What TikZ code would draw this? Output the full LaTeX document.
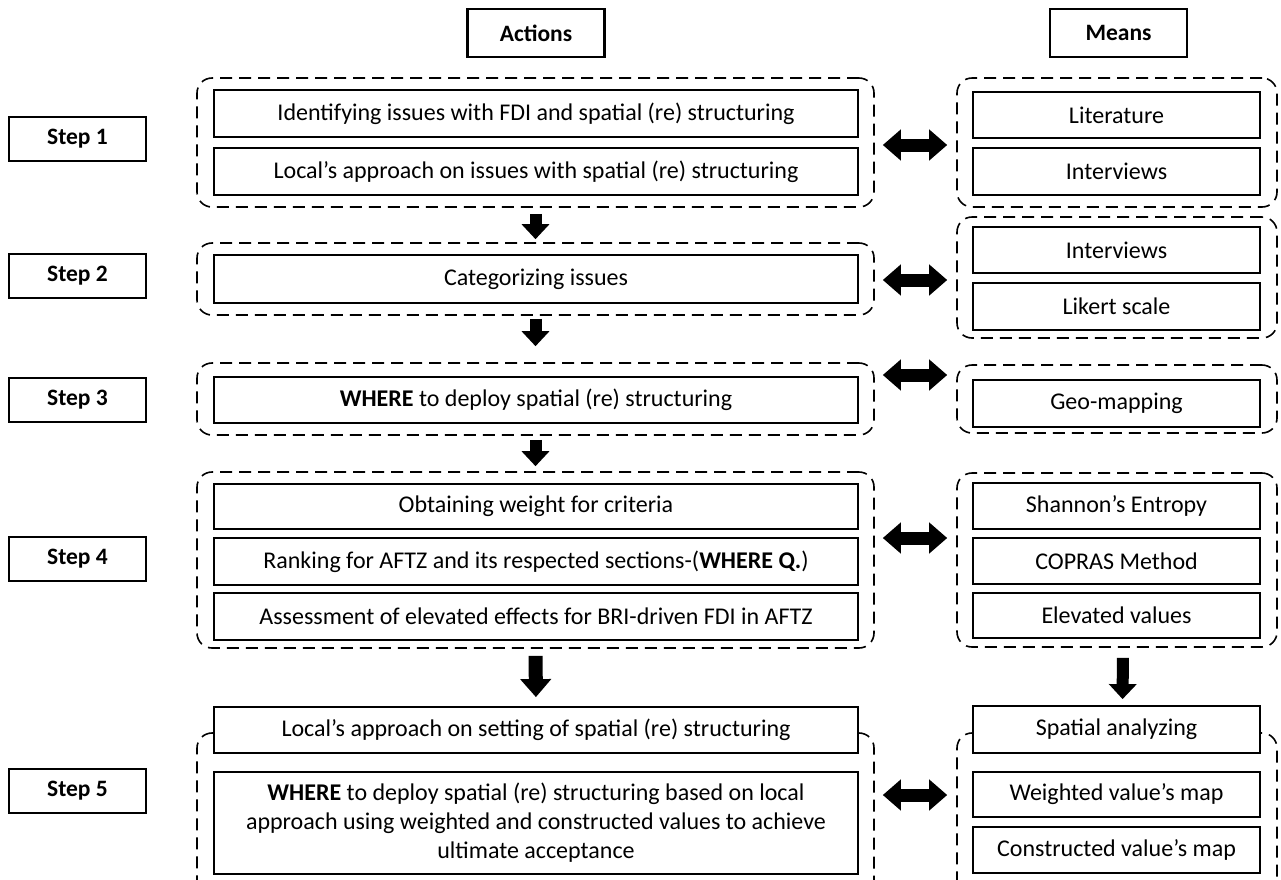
\documentclass[tikz,border=0pt]{standalone}
\usepackage{fontspec}
\setmainfont{Carlito}
\usetikzlibrary{arrows.meta}

\begin{document}
\begin{tikzpicture}[
  x=1pt, y=-1pt,
  every node/.style={font=\fontsize{24}{29}\selectfont},
  head/.style={draw,line width=2.6pt,font=\fontsize{23.5}{28}\selectfont\bfseries,
    minimum width=137pt,minimum height=48pt},
  stepbox/.style={draw,line width=2.6pt,font=\fontsize{23.5}{28}\selectfont\bfseries,
    minimum width=137pt,minimum height=44pt},
  act/.style={draw,fill=white,line width=1.8pt,minimum width=644pt,align=center,inner sep=2pt},
  mean/.style={draw,fill=white,line width=1.8pt,minimum width=287pt,inner sep=2pt},
  grp/.style={draw,line width=1.6pt,dash pattern=on 12pt off 7pt,rounded corners=15pt,
    inner sep=0pt,minimum width=#1},
  grp/.default=677pt,
  down/.style={line width=12pt,-{Triangle[width=27pt,length=15pt]}},
  bigdown/.style={line width=14pt,-{Triangle[width=30pt,length=18pt]}},
  both/.style={line width=13pt,{Triangle[width=30pt,length=18pt]}-{Triangle[width=30pt,length=18pt]}}
]
\clip (0,0) rectangle (1281,879);

% headers
\node[head] (actions) at (536,33) {Actions};
\node[head] (means) at (1118.5,33) {Means};

% steps
\foreach \y [count=\i] in {139,276,400,559,791} {
  \node[stepbox] (step\i) at (77.5,\y) {Step \i};
}

% dashed groups, actions side
\node[grp,minimum height=129pt] (ga1) at (535.5,142.5) {};
\node[grp,minimum height=72pt] (ga2) at (535.5,279) {};
\node[grp,minimum height=72pt] (ga3) at (535.5,399) {};
\node[grp,minimum height=176pt] (ga4) at (535.5,560) {};
\node[grp,minimum height=187pt] (ga5) at (535.5,826.5) {};

% dashed groups, means side
\node[grp=320pt,minimum height=129pt] (gm1) at (1117,142.5) {};
\node[grp=320pt,minimum height=121pt] (gm2) at (1117,277.5) {};
\node[grp=320pt,minimum height=68pt] (gm3) at (1117,399) {};
\node[grp=320pt,minimum height=174pt] (gm4) at (1117,560) {};
\node[grp=320pt,minimum height=187pt] (gm5) at (1117,826.5) {};

% actions
\node[act,minimum height=47pt] (a11) at (536,113.5) {Identifying issues with FDI and spatial (re) structuring};
\node[act,minimum height=47pt] (a12) at (536,171.5) {Local’s approach on issues with spatial (re) structuring};
\node[act,minimum height=48pt] (a21) at (536,279) {Categorizing issues};
\node[act,minimum height=46pt] (a31) at (536,400) {\textbf{WHERE} to deploy spatial (re) structuring};
\node[act,minimum height=45pt] (a41) at (536,506.5) {Obtaining weight for criteria};
\node[act,minimum height=47pt] (a42) at (536,561.5) {Ranking for AFTZ and its respected sections-(\textbf{WHERE Q.})};
\node[act,minimum height=47pt] (a43) at (536,616.5) {Assessment of elevated effects for BRI-driven FDI in AFTZ};
\node[act,minimum height=46pt] (a51) at (536,730) {Local’s approach on setting of spatial (re) structuring};
\node[act,minimum height=102pt] (a52) at (536,823) {\textbf{WHERE} to deploy spatial (re) structuring based on local\\
  approach using weighted and constructed values to achieve\\ ultimate acceptance};

% means
\node[mean,minimum height=46pt] (m11) at (1116.5,115) {Literature};
\node[mean,minimum height=47pt] (m12) at (1116.5,171.5) {Interviews};
\node[mean,minimum height=46pt] (m21) at (1116.5,250) {Interviews};
\node[mean,minimum height=47pt] (m22) at (1116.5,306.5) {Likert scale};
\node[mean,minimum height=47pt] (m31) at (1116.5,403.5) {Geo-mapping};
\node[mean,minimum height=46pt] (m41) at (1116.5,506) {Shannon’s Entropy};
\node[mean,minimum height=46pt] (m42) at (1116.5,561) {COPRAS Method};
\node[mean,minimum height=45pt] (m43) at (1116.5,615.5) {Elevated values};
\node[mean,minimum height=47pt] (m51) at (1116.5,729.5) {Spatial analyzing};
\node[mean,minimum height=45pt] (m52) at (1116.5,794.5) {Weighted value’s map};
\node[mean,minimum height=46pt] (m53) at (1116.5,850) {Constructed value’s map};

% flow down
\draw[down,shorten <=6pt,shorten >=3pt] (ga1.south) -- (ga2.north);
\draw[down,shorten <=3pt,shorten >=16pt] (ga2.south) -- (ga3.north);
\draw[down,shorten <=4pt,shorten >=5pt] (ga3.south) -- (ga4.north);
\draw[bigdown,shorten <=7pt,shorten >=9pt] (ga4.south) -- (a51.north);
\draw[down,shorten <=10pt,shorten >=6pt] ([xshift=6pt]gm4.south) -- ([xshift=6pt]m51.north);

% actions <-> means
\foreach \y [count=\i] in {145,280,375,538,795} {
  \coordinate (lvl\i) at (0,\y);
  \draw[both,shorten <=8pt,shorten >=9pt] (ga\i.east |- lvl\i) -- (gm\i.west |- lvl\i);
}
\end{tikzpicture}
\end{document}
